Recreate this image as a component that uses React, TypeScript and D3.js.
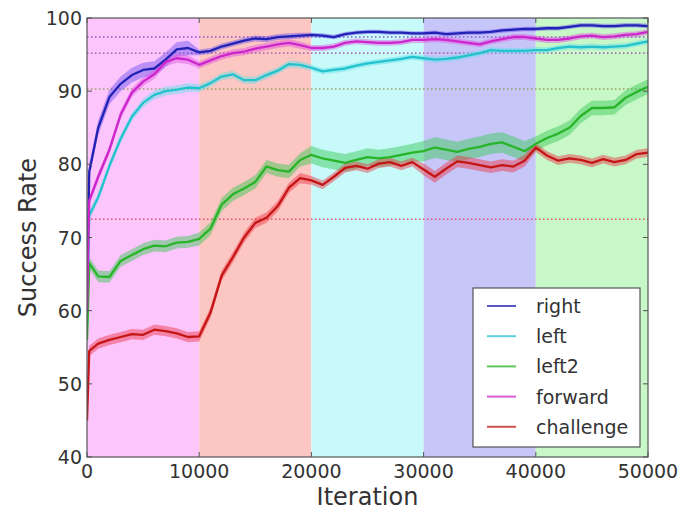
import React from 'react';
import * as d3 from 'd3';

// x grid (iterations)
const ITERATIONS: number[] = [0, 200, ...d3.range(1000, 50001, 1000)];

const RIGHT = [62, 79, 85, 89.2, 91, 92.2, 92.9, 93.1, 94.3, 95.7, 95.9, 95.3, 95.5, 96.1, 96.5, 96.9, 97.2, 97.1, 97.4, 97.5, 97.6, 97.7,
  97.6, 97.4, 97.8, 98.0, 98.1, 98.1, 98.0, 98.0, 97.9, 97.9, 98.0, 97.8, 97.9, 98.0, 98.0, 98.1, 98.3, 98.4, 98.5, 98.5,
  98.6, 98.6, 98.8, 99.0, 99.0, 98.9, 98.9, 99.0, 99.0, 98.9];
const LEFT = [58, 73, 75.5, 79.8, 83.5, 86.5, 88.4, 89.5, 90.0, 90.2, 90.5, 90.4, 91.1, 92.0, 92.3, 91.5, 91.5, 92.2, 92.8, 93.7, 93.6, 93.2,
  92.7, 92.9, 93.1, 93.5, 93.8, 94.0, 94.2, 94.4, 94.7, 94.5, 94.3, 94.4, 94.6, 94.9, 95.2, 95.6, 95.5, 95.5, 95.5, 95.6,
  95.6, 95.9, 96.1, 96.0, 96.1, 96.0, 96.1, 96.2, 96.5, 96.8];
const LEFT2 = [56, 66.5, 64.7, 64.6, 66.8, 67.6, 68.4, 68.9, 68.8, 69.3, 69.4, 69.8, 71.2, 74.5, 75.9, 76.7, 77.6, 79.7, 79.2, 79.0, 80.6, 81.3,
  80.8, 80.5, 80.2, 80.6, 81.0, 80.8, 81.0, 81.3, 81.6, 81.8, 82.3, 82.0, 81.7, 82.1, 82.4, 82.8, 83.0, 82.4, 81.8, 82.8,
  83.6, 84.2, 85.0, 86.6, 87.7, 87.7, 87.8, 89.1, 89.9, 90.6];
const FORWARD = [60, 75, 78.3, 82, 86.8, 89.8, 91.3, 92.3, 94.0, 94.5, 94.3, 93.6, 94.2, 94.8, 95.2, 95.4, 95.8, 96.1, 96.4, 96.6, 96.3, 95.9,
  95.9, 96.1, 96.6, 96.8, 96.7, 96.6, 96.6, 96.7, 97.0, 97.0, 97.1, 97.0, 96.8, 96.6, 96.4, 96.8, 97.1, 97.4, 97.4, 97.2,
  97.0, 97.0, 97.2, 97.5, 97.6, 97.4, 97.5, 97.7, 97.8, 98.1];
const CHALLENGE = [45, 54.5, 55.5, 56.0, 56.4, 56.8, 56.7, 57.4, 57.2, 56.9, 56.4, 56.5, 59.7, 64.8, 67.3, 70.0, 72.0, 72.7, 74.3, 76.8, 78.1, 77.8,
  77.2, 78.3, 79.5, 79.8, 79.4, 80.1, 80.3, 79.8, 80.3, 79.3, 78.3, 79.4, 80.4, 80.2, 79.9, 79.6, 79.9, 79.7, 80.5, 82.3,
  81.2, 80.5, 80.8, 80.6, 80.2, 80.7, 80.3, 80.6, 81.4, 81.6];

// band half-widths per 10000-iteration segment
const RIGHT_SPREAD = [1.0, 0.4, 0.3, 0.3, 0.3];
const LEFT_SPREAD = [0.6, 0.5, 0.4, 0.4, 0.4];
const LEFT2_SPREAD = [0.8, 0.9, 1.2, 1.4, 1.0];
const FORWARD_SPREAD = [0.6, 0.5, 0.4, 0.4, 0.4];
const CHALLENGE_SPREAD = [0.7, 0.7, 0.6, 0.8, 0.6];

const BASELINES = [97.4, 95.2, 90.3, 72.5];
const BASELINE_COLORS = ['#8a5ac8', '#b06ab8', '#9aa060', '#e05070'];

const PHASES = [0, 10000, 20000, 30000, 40000, 50000];
const PHASE_COLORS = ['#fcc6fc', '#fcc6c2', '#c8fafa', '#c6c6f8', '#c8f8c8'];

const X_TICKS = [0, 10000, 20000, 30000, 40000, 50000];
const Y_TICKS = [40, 50, 60, 70, 80, 90, 100];

const SERIES = [
  { name: 'right', values: RIGHT, spread: RIGHT_SPREAD, line: '#2222b4', band: '#6a4cf0' },
  { name: 'left', values: LEFT, spread: LEFT_SPREAD, line: '#24c2cc', band: '#5ae0e8' },
  { name: 'left2', values: LEFT2, spread: LEFT2_SPREAD, line: '#28b428', band: '#30c850' },
  { name: 'forward', values: FORWARD, spread: FORWARD_SPREAD, line: '#cc26cc', band: '#e050e0' },
  { name: 'challenge', values: CHALLENGE, spread: CHALLENGE_SPREAD, line: '#c41616', band: '#ee3040' },
];

export default function App() {
  const W = 684, H = 514;
  const L = 87, R = 648, T = 18, B = 457;
  const x = d3.scaleLinear().domain([0, 50000]).range([L, R]);
  const y = d3.scaleLinear().domain([40, 100]).range([B, T]);
  const font = 'DejaVu Sans, sans-serif';
  const textColor = '#333';

  const seg = (it: number) => Math.min(4, Math.floor(it / 10000));

  return (
    <svg width={W} height={H} style={{ position: 'absolute', left: 0, top: 0, background: '#fff' }} fontFamily={font}>
      <defs>
        <clipPath id="plot"><rect x={L} y={T} width={R - L} height={B - T} /></clipPath>
      </defs>
      {PHASE_COLORS.map((c, i) => (
        <rect key={i} x={x(PHASES[i])} y={T} width={x(PHASES[i + 1]) - x(PHASES[i])} height={B - T} fill={c} />
      ))}
      <g clipPath="url(#plot)">
        {BASELINES.map((b, i) => (
          <line key={i} x1={L} x2={R} y1={y(b)} y2={y(b)} stroke={BASELINE_COLORS[i]} strokeWidth={1.6} strokeDasharray="1.5,2.5" />
        ))}
        {SERIES.map((s) => {
          const area = d3.area<number>()
            .x((_, i) => x(ITERATIONS[i]))
            .y0((v, i) => y(v - s.spread[seg(ITERATIONS[i])]))
            .y1((v, i) => y(v + s.spread[seg(ITERATIONS[i])]))
            .curve(d3.curveLinear);
          return <path key={s.name + 'b'} d={area(s.values) || ''} fill={s.band} opacity={0.45} />;
        })}
        {SERIES.map((s) => {
          const line = d3.line<number>().x((_, i) => x(ITERATIONS[i])).y((v) => y(v));
          return <path key={s.name} d={line(s.values) || ''} fill="none" stroke={s.line} strokeWidth={2.3} strokeLinejoin="round" />;
        })}
      </g>
      {/* frame */}
      <rect x={L} y={T} width={R - L} height={B - T} fill="none" stroke="#555" strokeWidth={1.2} />
      {X_TICKS.map((t) => (
        <g key={t}>
          <line x1={x(t)} x2={x(t)} y1={B} y2={B - 5} stroke="#555" />
          <line x1={x(t)} x2={x(t)} y1={T} y2={T + 5} stroke="#555" />
          <text x={x(t)} y={B + 21} textAnchor="middle" fontSize={19} fill={textColor}>{t}</text>
        </g>
      ))}
      {Y_TICKS.map((t) => (
        <g key={t}>
          <line x1={L} x2={L + 5} y1={y(t)} y2={y(t)} stroke="#555" />
          <line x1={R} x2={R - 5} y1={y(t)} y2={y(t)} stroke="#555" />
          <text x={L - 5} y={y(t) + 7} textAnchor="end" fontSize={19} fill={textColor}>{t}</text>
        </g>
      ))}
      <text x={(L + R) / 2} y={505} textAnchor="middle" fontSize={24} fill={textColor}>Iteration</text>
      <text transform={`translate(36, ${(T + B) / 2}) rotate(-90)`} textAnchor="middle" fontSize={24} fill={textColor}>Success Rate</text>
      {/* legend */}
      <g>
        <rect x={473} y={288} width={167} height={159} fill="#fff" stroke="#555" strokeWidth={1.2} />
        {SERIES.map((s, i) => {
          const cy = 306 + i * 30.2;
          return (
            <g key={s.name}>
              <line x1={487} x2={516} y1={cy} y2={cy} stroke={s.line} strokeWidth={2} opacity={0.75} />
              <text x={536} y={cy + 7} fontSize={19} fill={textColor}>{s.name}</text>
            </g>
          );
        })}
      </g>
    </svg>
  );
}
